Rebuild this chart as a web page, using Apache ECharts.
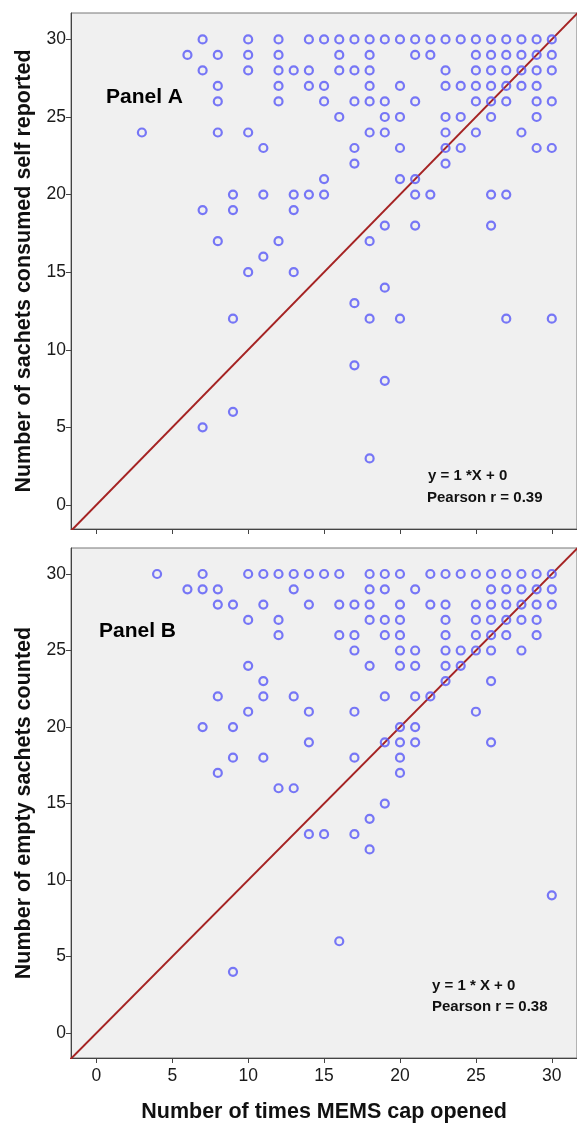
<!DOCTYPE html>
<html>
<head>
<meta charset="utf-8">
<script src="https://cdn.jsdelivr.net/npm/echarts@6/dist/echarts.min.js"></script>
<style>
html,body{margin:0;padding:0;background:#fff;}
#c{width:577px;height:1124px;}
</style>
</head>
<body>
<div id="c"></div>
<script>
// Panel A: self-reported sachets (y) vs MEMS openings (x); rows [y, [x values]]
const panelARows = [
  [30, [7,10,12,14,15,16,17,18,19,20,21,22,23,24,25,26,27,28,29,30]],
  [29, [6,8,10,12,16,18,21,22,25,26,27,28,29,30]],
  [28, [7,10,12,13,14,16,17,18,23,25,26,27,28,29,30]],
  [27, [8,12,14,15,18,20,23,24,25,26,27,28,29]],
  [26, [8,12,15,17,18,19,21,25,26,27,29,30]],
  [25, [16,19,20,23,24,26,29]],
  [24, [3,8,10,18,19,23,25,28]],
  [23, [11,17,20,23,24,29,30]],
  [22, [17,23]],
  [21, [15,20,21]],
  [20, [9,11,13,14,15,21,22,26,27]],
  [19, [7,9,13]],
  [18, [19,21,26]],
  [17, [8,12,18]],
  [16, [11]],
  [15, [10,13]],
  [14, [19]],
  [13, [17]],
  [12, [9,18,20,27,30]],
  [9,  [17]],
  [8,  [19]],
  [6,  [9]],
  [5,  [7]],
  [3,  [18]]
];
// Panel B: empty sachets counted (y) vs MEMS openings (x)
const panelBRows = [
  [30, [4,7,10,11,12,13,14,15,16,18,19,20,22,23,24,25,26,27,28,29,30]],
  [29, [6,7,8,13,18,19,21,26,27,28,29,30]],
  [28, [8,9,11,14,16,17,18,20,22,23,25,26,27,28,29,30]],
  [27, [10,12,18,19,20,23,25,26,27,28,29]],
  [26, [12,16,17,19,20,23,25,26,27,29]],
  [25, [17,20,21,23,24,25,26,28]],
  [24, [10,18,20,21,23,24]],
  [23, [11,23,26]],
  [22, [8,11,13,19,21,22]],
  [21, [10,14,17,25]],
  [20, [7,9,20,21]],
  [19, [14,19,20,21,26]],
  [18, [9,11,17,20]],
  [17, [8,20]],
  [16, [12,13]],
  [15, [19]],
  [14, [18]],
  [13, [14,15,17]],
  [12, [18]],
  [9,  [30]],
  [6,  [16]],
  [4,  [9]]
];
const identityLine = [[-3,-3],[33,33]];
const tickValues = [0,5,10,15,20,25,30];
const annotA = ['y = 1 *X + 0', 'Pearson r = 0.39'];
const annotB = ['y = 1 * X + 0', 'Pearson r = 0.38'];

function flatten(rows){
  const out = [];
  rows.forEach(r => r[1].forEach(x => out.push([x, r[0]])));
  return out;
}

const FONT = 'Liberation Sans, Arial, sans-serif';
const chart = echarts.init(document.getElementById('c'), null, {renderer:'canvas'});
const axisCommon = {
  type:'value',
  splitLine:{show:false},
  axisLine:{show:true, onZero:false, lineStyle:{color:'#444', width:1}},
  axisTick:{show:true, length:5, lineStyle:{color:'#444'}, customValues:tickValues},
  axisLabel:{color:'#1a1a1a', fontSize:17.5, fontFamily:FONT, customValues:tickValues}
};
const nameStyle = {fontSize:21.5, fontWeight:'bold', color:'#111', fontFamily:FONT};
const sym = {
  type:'scatter', symbol:'circle', symbolSize:8,
  itemStyle:{color:'rgba(0,0,0,0)', borderColor:'#5858f8', borderWidth:2.2},
  emphasis:{disabled:true}, silent:true
};
const lineS = {
  type:'line', symbol:'none', clip:true, silent:true,
  lineStyle:{color:'#a52323', width:2}
};
const annStyle = {fontSize:15, fontWeight:'bold', fill:'#111', fontFamily:FONT};

chart.setOption({
  animation:false,
  backgroundColor:'#ffffff',
  grid:[
    {left:71, top:13, width:510, height:516, show:true, backgroundColor:'#f0f0f0', borderColor:'#777', borderWidth:1},
    {left:71, top:548, width:510, height:511, show:true, backgroundColor:'#f0f0f0', borderColor:'#777', borderWidth:1}
  ],
  xAxis:[
    Object.assign({}, axisCommon, {gridIndex:0, min:-1.67, max:31.66, axisLabel:{show:false}}),
    Object.assign({}, axisCommon, {gridIndex:1, min:-1.67, max:31.66,
      axisLabel:Object.assign({}, axisCommon.axisLabel, {margin:9}),
      name:'Number of times MEMS cap opened', nameLocation:'middle', nameGap:43, nameTextStyle:nameStyle})
  ],
  yAxis:[
    Object.assign({}, axisCommon, {gridIndex:0, min:-1.55, max:31.7,
      axisLabel:Object.assign({}, axisCommon.axisLabel, {margin:5}),
      name:'Number of sachets consumed self reported', nameLocation:'middle', nameRotate:90, nameGap:36, nameTextStyle:nameStyle}),
    Object.assign({}, axisCommon, {gridIndex:1, min:-1.63, max:31.7,
      axisLabel:Object.assign({}, axisCommon.axisLabel, {margin:5}),
      name:'Number of empty sachets counted', nameLocation:'middle', nameRotate:90, nameGap:36, nameTextStyle:nameStyle})
  ],
  series:[
    Object.assign({}, lineS, {xAxisIndex:0, yAxisIndex:0, data:identityLine, z:1}),
    Object.assign({}, lineS, {xAxisIndex:1, yAxisIndex:1, data:identityLine, z:1}),
    Object.assign({}, sym, {xAxisIndex:0, yAxisIndex:0, data:flatten(panelARows), z:3}),
    Object.assign({}, sym, {xAxisIndex:1, yAxisIndex:1, data:flatten(panelBRows), z:3})
  ],
  graphic:[
    {type:'text', left:106, top:87, style:{text:'Panel A', fontSize:21, fontWeight:'bold', fill:'#000', fontFamily:FONT}},
    {type:'text', left:99, top:621, style:{text:'Panel B', fontSize:21, fontWeight:'bold', fill:'#000', fontFamily:FONT}},
    {type:'text', left:428, top:468, style:Object.assign({text:annotA[0]}, annStyle)},
    {type:'text', left:427, top:490, style:Object.assign({text:annotA[1]}, annStyle)},
    {type:'text', left:432, top:978, style:Object.assign({text:annotB[0]}, annStyle)},
    {type:'text', left:432, top:999, style:Object.assign({text:annotB[1]}, annStyle)}
  ]
});
</script>
</body>
</html>
